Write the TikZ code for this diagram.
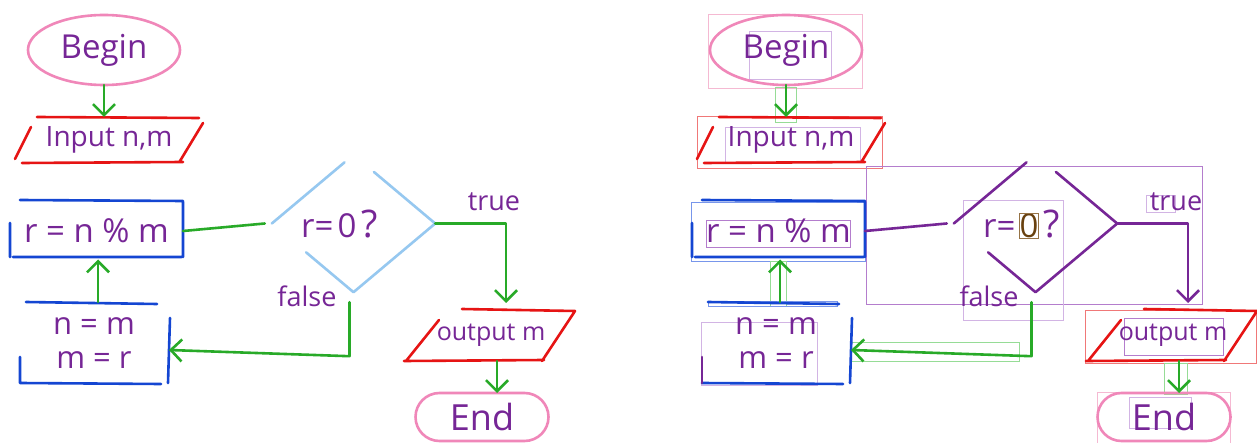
\documentclass[tikz,border=0pt]{standalone}
\usepackage{fontspec}
\setmainfont{Open Sans}
\usetikzlibrary{shapes.geometric,arrows.meta,calc}
\definecolor{cpink}{RGB}{240,135,185}
\definecolor{cpurple}{RGB}{118,38,150}
\definecolor{cgreen}{RGB}{40,170,40}
\definecolor{cred}{RGB}{230,20,20}
\definecolor{cblue}{RGB}{20,70,210}
\definecolor{clblue}{RGB}{150,200,240}
\definecolor{cbrown}{RGB}{105,65,15}
\definecolor{bpink}{RGB}{245,185,210}
\definecolor{bpurple}{RGB}{210,180,228}
\definecolor{bpurpled}{RGB}{180,125,205}
\definecolor{bred}{RGB}{240,120,120}
\definecolor{bblue}{RGB}{120,150,235}
\definecolor{bgreen}{RGB}{150,220,150}
\definecolor{bbrown}{RGB}{150,115,70}
\def\R{682}
\begin{document}
\begin{tikzpicture}[x=1pt,y=-1pt,
  stroke/.style={line width=2.6pt,line cap=round,line join=round},
  arr/.style={stroke,-{Straight Barb[length=11pt,width=22pt]}},
  txt/.style={text=cpurple,inner sep=0pt,outer sep=0pt},
  fbig/.style={font=\fontsize{33}{38}\selectfont},
  fq/.style={font=\fontsize{38}{42}\selectfont},
  fend/.style={font=\fontsize{36}{40}\selectfont},
  fmid/.style={font=\fontsize{28}{34}\selectfont},
  frr/.style={font=\fontsize{31}{34}\selectfont},
  fout/.style={font=\fontsize{25}{30}\selectfont},
  fsmall/.style={font=\fontsize{27}{30}\selectfont},
  bbox/.style={line width=0.8pt}]
\fill[white] (0,0) rectangle (1257,443);
\useasboundingbox (0,0) rectangle (1257,443);

% ================= LEFT: original sketch =================
\node[ellipse,draw=cpink,stroke,minimum width=152pt,minimum height=70pt,txt,fbig] (Lbegin) at (104,50) {Begin};
\node[txt,fmid,minimum width=170pt,minimum height=46pt] (Lin) at (109,140) {Input n,m};
\draw[stroke,cred,shift={(Lin.center)}] (-72,-23) -- (90,-22) (94,-17) -- (71,21) (-87,23) -- (74,22) (-94,19) -- (-78,-13);
\node[txt,fbig,minimum width=173pt,minimum height=57pt] (Lr1) at (96.5,231) {r = n \% m};
\draw[stroke,cblue,shift={(Lr1.center)}] (-76.5,-31) -- (86.5,-30) (86.5,-29) -- (86.5,26) (-83.5,26) -- (85,26) (-86.5,-8) -- (-86.5,26);
\node[txt,frr,align=center,minimum width=150pt,minimum height=82pt] (Lr2) at (94,343) {n = m\\m = r};
\draw[stroke,cblue,shift={(Lr2.center)}] (-68,-41) -- (63,-39) (76,-25) -- (74,40) (-74,40) -- (67,41) (-74,14) -- (-74,40);
\node[diamond,minimum width=163pt,minimum height=137pt,inner sep=0pt] (Ld) at (353.5,223.5) {};
\draw[stroke,clblue] (Ld.west) -- ($(Ld.west)!0.89!(Ld.north)$) ($(Ld.north)!0.25!(Ld.east)$) -- (Ld.east) -- (Ld.south) -- ($(Ld.south)!0.58!(Ld.west)$);
\node[txt,fbig] (Lq0) at (347,226) {0};
\node[txt,fbig,anchor=base east] (Lq1) at ([xshift=-4pt]Lq0.base west) {r=};
\node[txt,fq,anchor=base west] (Lq2) at ([xshift=5pt]Lq0.base east) {?};
\node[txt,fsmall] (Ltrue) at (494,202) {true};
\node[txt,fsmall] (Lfalse) at (307,296) {false};
\node[txt,fout,minimum width=136pt,minimum height=51pt] (Lout) at (491,335.5) {output m};
\draw[stroke,cred,shift={(Lout.center)}] (-29,-26.5) -- (84,-24.5) -- (51,25.5) (-87,25.5) -- (53,24.5) (-85,25.5) -- (-52,-15.5);
\node[rectangle,rounded corners=24pt,draw=cpink,stroke,minimum width=133pt,minimum height=48pt,txt,fend] (Lend) at (482,417) {End};

\draw[arr,cgreen] (Lbegin.south) -- (Lbegin.south |- Lin.north);
\draw[arr,cgreen] ([xshift=4pt]Lr2.north) -- ([xshift=4pt]Lr2.north |- Lr1.south);
\draw[stroke,cgreen] (Lr1.east) -- ([xshift=-7pt]Ld.west);
\draw[arr,cgreen] (Ld.east) -| ([xshift=15pt,yshift=7pt]Lout.north);
\draw[arr,cgreen] ([xshift=-4pt,yshift=-10pt]Ld.south) -- ++(0,54) -- ([yshift=-7pt]Lr2.east);
\draw[arr,cgreen] ([xshift=6pt]Lout.south) -- ([xshift=6pt]Lout.south |- Lend.north);

% ================= RIGHT: recognised sketch =================
\draw[bbox,bpink] (\R+26.3,14) rectangle (\R+180.3,88.3);
\draw[bbox,bpurple] (\R+67.3,31.7) rectangle (\R+149.7,79);
\draw[bbox,bgreen] (\R+93.7,87.3) rectangle (\R+114.7,122.7);
\draw[bbox,bred] (\R+15.3,116.7) rectangle (\R+200.7,168.3);
\draw[bbox,bpurple] (\R+43,127.3) rectangle (\R+178.7,162.3);
\draw[bbox,bpurpled] (\R+184.7,166) rectangle (\R+520.3,304.3);
\draw[bbox,bblue] (\R+9.7,202.7) rectangle (\R+183.7,261);
\draw[bbox,bpurpled] (\R+24.7,220.7) rectangle (\R+168,247.7);
\draw[bbox,bgreen] (\R+88.7,261.7) rectangle (\R+104.7,306);
\draw[bbox,bblue] (\R+26.3,301.7) rectangle (\R+155.7,306.7);
\draw[bbox,bpurple] (\R+19.7,322.7) rectangle (\R+135.3,385);
\draw[bbox,bpurple] (\R+281.3,200.7) rectangle (\R+381.3,320);
\draw[bbox,bgreen] (\R+169.7,342.3) rectangle (\R+337,361);
\draw[bbox,bpurple] (\R+464.7,195) rectangle (\R+493.7,212.3);
\draw[bbox,bred] (\R+403.7,310) rectangle (\R+574.7,363.3);
\draw[bbox,bpurpled] (\R+442.3,318.3) rectangle (\R+541.3,355);
\draw[bbox,bgreen] (\R+482.3,363.3) rectangle (\R+505.7,394);
\draw[bbox,bpink] (\R+415.3,392.3) rectangle (\R+548,443);
\draw[bbox,bpurple] (\R+447,397.3) rectangle (\R+509.7,428.3);

\node[ellipse,draw=cpink,stroke,minimum width=152pt,minimum height=70pt,txt,fbig] (Rbegin) at (\R+104,50) {Begin};
\node[txt,fmid,minimum width=170pt,minimum height=46pt] (Rin) at (\R+109,140) {Input n,m};
\draw[stroke,cred,shift={(Rin.center)}] (-72,-23) -- (90,-22) (94,-17) -- (71,21) (-87,23) -- (74,22) (-94,19) -- (-78,-13);
\node[txt,fbig,minimum width=173pt,minimum height=57pt] (Rr1) at (\R+96.5,231) {r = n \% m};
\draw[stroke,cblue,shift={(Rr1.center)}] (-76.5,-31) -- (86.5,-30) (86.5,-29) -- (86.5,26) (-83.5,26) -- (85,26) (-86.5,-8) -- (-86.5,26);
\node[txt,frr,align=center,minimum width=150pt,minimum height=82pt] (Rr2) at (\R+94,343) {n = m\\m = r};
\draw[stroke,cblue,shift={(Rr2.center)}] (-68,-41) -- (63,-39) (76,-25) -- (74,40) (-74,40) -- (67,41);
\draw[stroke,cpurple,shift={(Rr2.center)}] (-74,14) -- (-74,40);
\node[diamond,minimum width=163pt,minimum height=137pt,inner sep=0pt] (Rd) at (\R+353.5,223.5) {};
\draw[stroke,cpurple] (Rd.west) -- ($(Rd.west)!0.89!(Rd.north)$) ($(Rd.north)!0.25!(Rd.east)$) -- (Rd.east) -- (Rd.south) -- ($(Rd.south)!0.58!(Rd.west)$);
\node[txt,fbig,text=cbrown] (Rq0) at (\R+347,226) {0};
\draw[bbox,bbrown] (Rq0.south west) rectangle (Rq0.north east);
\node[txt,fbig,anchor=base east] (Rq1) at ([xshift=-4pt]Rq0.base west) {r=};
\node[txt,fq,anchor=base west] (Rq2) at ([xshift=5pt]Rq0.base east) {?};
\node[txt,fsmall] (Rtrue) at (\R+494,202) {true};
\node[txt,fsmall] (Rfalse) at (\R+307,296) {false};
\node[txt,fout,minimum width=136pt,minimum height=51pt] (Rout) at (\R+491,335.5) {output m};
\draw[stroke,cred,shift={(Rout.center)}] (-29,-26.5) -- (84,-24.5) -- (51,25.5) (-87,25.5) -- (53,24.5) (-85,25.5) -- (-52,-15.5);
\node[rectangle,rounded corners=24pt,draw=cpink,stroke,minimum width=133pt,minimum height=48pt,txt,fend] (Rend) at (\R+482,417) {End};

\draw[arr,cgreen] (Rbegin.south) -- (Rbegin.south |- Rin.north);
\draw[arr,cgreen] ([xshift=4pt]Rr2.north) -- ([xshift=4pt]Rr2.north |- Rr1.south);
\draw[stroke,cpurple] (Rr1.east) -- ([xshift=-7pt]Rd.west);
\draw[arr,cpurple] (Rd.east) -| ([xshift=15pt,yshift=7pt]Rout.north);
\draw[arr,cgreen] ([xshift=-4pt,yshift=-10pt]Rd.south) -- ++(0,54) -- ([yshift=-7pt]Rr2.east);
\draw[arr,cgreen] ([xshift=6pt]Rout.south) -- ([xshift=6pt]Rout.south |- Rend.north);
\end{tikzpicture}
\end{document}
